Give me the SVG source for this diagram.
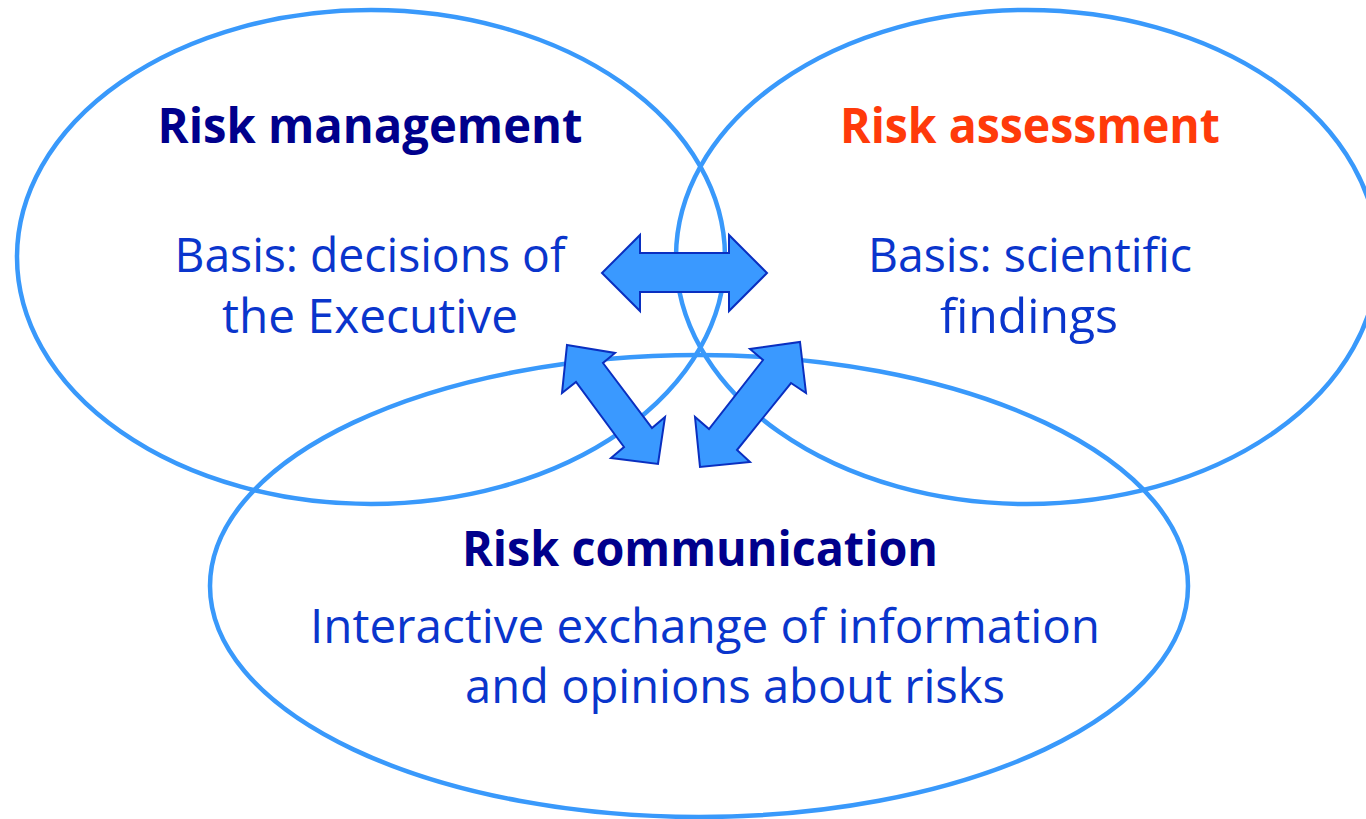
<svg xmlns="http://www.w3.org/2000/svg" width="1366" height="819" viewBox="0 0 1366 819">
<style>
.ring{fill:none;stroke:#3999fb;stroke-width:4.5}
.arrow{fill:#3a99ff;stroke:#0a2fc0;stroke-width:2;stroke-linejoin:miter}
.title{font-family:"Open Sans","Noto Sans",sans-serif;font-weight:bold;font-size:48px;text-anchor:middle}
.body{font-family:"Open Sans","Noto Sans",sans-serif;font-size:48px;fill:#0a35cc;text-anchor:middle}
</style>
<rect width="1366" height="819" fill="#ffffff"/>
<g id="management">
<ellipse class="ring" cx="371" cy="257" rx="354" ry="247"/>
<text class="title" x="370" y="143" fill="#00008c" textLength="425" lengthAdjust="spacingAndGlyphs">Risk management</text>
<text class="body" x="370" y="272" textLength="391" lengthAdjust="spacingAndGlyphs">Basis: decisions of</text>
<text class="body" x="370" y="333" textLength="296" lengthAdjust="spacingAndGlyphs">the Executive</text>
</g>
<g id="assessment">
<ellipse class="ring" cx="1027" cy="257" rx="351" ry="247"/>
<text class="title" x="1030" y="143" fill="#ff3a0a" textLength="380" lengthAdjust="spacingAndGlyphs">Risk assessment</text>
<text class="body" x="1030" y="272" textLength="324" lengthAdjust="spacingAndGlyphs">Basis: scientific</text>
<text class="body" x="1029" y="333" textLength="178" lengthAdjust="spacingAndGlyphs">findings</text>
</g>
<g id="communication">
<ellipse class="ring" cx="699" cy="586" rx="489" ry="231"/>
<text class="title" x="700" y="566" fill="#00008c" textLength="476" lengthAdjust="spacingAndGlyphs">Risk communication</text>
<text class="body" x="705" y="643" textLength="790" lengthAdjust="spacingAndGlyphs">Interactive exchange of information</text>
<text class="body" x="735" y="703" textLength="540" lengthAdjust="spacingAndGlyphs">and opinions about risks</text>
</g>
<g id="connectors">
<polygon class="arrow" points="602,273 640,235 640,253 729,253 729,235 767,273 729,311 729,292 640,292 640,311"/>
<polygon class="arrow" points="567,345 615,353 603,363 652,428 665,417 658,464 611,458 624,447 576,382 562,393"/>
<polygon class="arrow" points="800,342 806,393 791,383 737,450 750,462 700,467 695,417 709,429 763,360 750,349"/>
</g>
</svg>
